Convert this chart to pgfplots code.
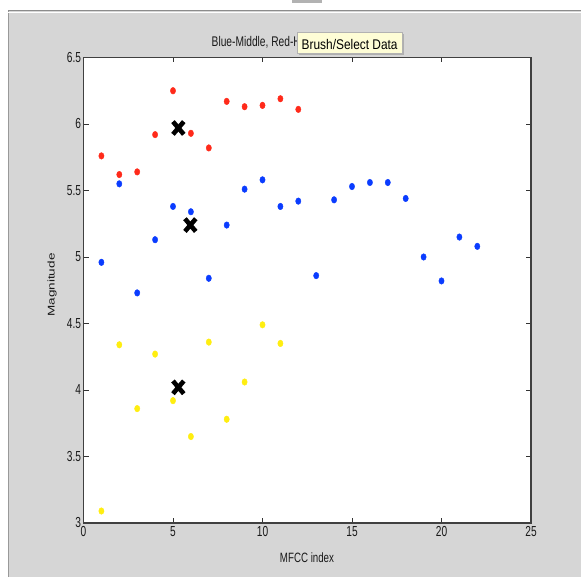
\documentclass[border=0pt]{standalone}
\usepackage{fontspec}
\setmainfont{Liberation Sans}
\usepackage{pgfplots}
\pgfplotsset{compat=1.18}
\usetikzlibrary{shadows}
\definecolor{figgray}{HTML}{D6D6D6}
\definecolor{mred}{HTML}{FF2A1A}
\definecolor{mblue}{HTML}{0A3CFF}
\definecolor{myellow}{HTML}{FFEE10}
\definecolor{tipyellow}{HTML}{FEFDD6}
\newcommand{\nt}[1]{\scalebox{0.7}[1]{#1}}
\begin{document}
\begin{tikzpicture}
\useasboundingbox (0pt,0pt) rectangle (581pt,577pt);
\fill[white] (0pt,0pt) rectangle (581pt,577pt);
\fill[figgray] (8pt,0pt) rectangle (581pt,566pt);
\draw[gray!80, line width=0.8pt] (8pt,0pt) -- (8pt,566pt);
\draw[gray!90, line width=1pt] (8pt,566.5pt) -- (581pt,566.5pt);
\draw[white, line width=0.8pt] (8pt,564.8pt) -- (581pt,564.8pt);
\fill[gray!60] (292pt,574pt) rectangle (322pt,577pt);
\begin{axis}[
  at={(83.5pt,54pt)}, anchor=south west,
  scale only axis, width=447.5pt, height=465.5pt,
  xmin=0, xmax=25, ymin=3, ymax=6.5,
  xtick={0,5,...,25}, ytick={3,3.5,...,6.5},
  tick align=inside, tick pos=both,
  major tick length=5pt,
  axis background/.style={fill=white},
  axis line style={black!75, line width=1.2pt},
  tick style={black!80, line width=0.8pt},
  /pgf/number format/assume math mode=true,
  ticklabel style={font=\fontsize{14.5}{15}\selectfont, text=black!90},
  xticklabel={\nt{\pgfmathprintnumber{\tick}}},
  yticklabel={\nt{\pgfmathprintnumber{\tick}}},
  yticklabel style={/pgf/number format/fixed, /pgf/number format/precision=1, xshift=1pt},
  clip=false,
]
\addplot[only marks, mark=*, mark size=3.3pt, color=mred, mark options={xscale=0.8}] coordinates {
(1,5.76) (2,5.62) (3,5.64) (4,5.92) (5,6.25) (6,5.93) (7,5.82) (8,6.17) (9,6.13) (10,6.14) (11,6.19) (12,6.11)};
\addplot[only marks, mark=*, mark size=3.3pt, color=mblue, mark options={xscale=0.8}] coordinates {
(1,4.96) (2,5.55) (3,4.73) (4,5.13) (5,5.38) (6,5.34) (7,4.84) (8,5.24) (9,5.51) (10,5.58) (11,5.38) (12,5.42) (13,4.86) (14,5.43) (15,5.53) (16,5.56) (17,5.56) (18,5.44) (19,5.00) (20,4.82) (21,5.15) (22,5.08)};
\addplot[only marks, mark=*, mark size=3.3pt, color=myellow, mark options={xscale=0.8}] coordinates {
(1,3.09) (2,4.34) (3,3.86) (4,4.27) (5,3.92) (6,3.65) (7,4.36) (8,3.78) (9,4.06) (10,4.49) (11,4.35)};
\addplot[only marks, mark=x, mark size=9pt, color=black, mark options={line width=4.6pt, xscale=0.85}] coordinates {
(5.3,5.97) (5.97,5.24) (5.3,4.02)};
\end{axis}
\node[anchor=west, inner sep=0pt, font=\fontsize{14}{15}\selectfont, text=black!90] at (211.5pt,534pt) {\scalebox{0.73}[1]{Blue-Middle, Red-High}};
\node[anchor=south west, inner sep=0pt, fill=tipyellow, draw=gray!60, line width=0.4pt,
  minimum width=105pt, minimum height=20.5pt,
  drop shadow={shadow xshift=1.5pt, shadow yshift=-2pt, opacity=0.18, fill=black}] at (297pt,524pt) {};
\node[anchor=west, inner sep=0pt, font=\fontsize{14}{15}\selectfont] at (301.5pt,532pt) {\scalebox{0.85}[1]{Brush/Select Data}};
\node[font=\fontsize{13.5}{14}\selectfont, text=black!90] at (307pt,19pt) {\scalebox{0.72}[1]{MFCC index}};
\node[font=\fontsize{13.5}{14}\selectfont, text=black!90, rotate=90] at (52pt,292pt) {\scalebox{1}[0.72]{Magnitude}};
\end{tikzpicture}
\end{document}
